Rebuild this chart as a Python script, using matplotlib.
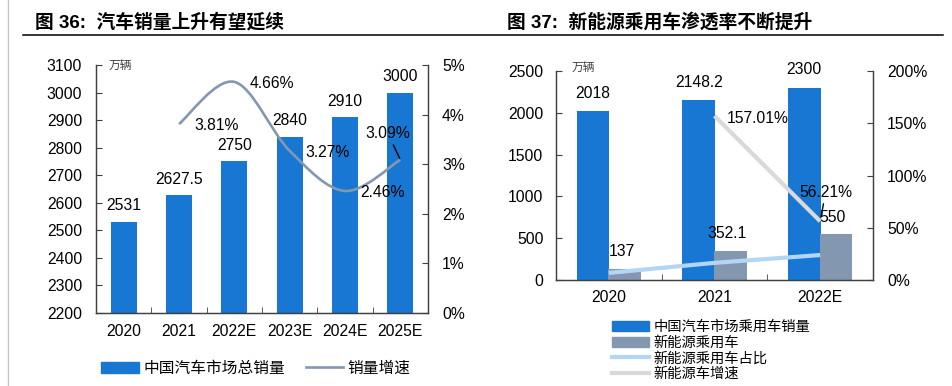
import numpy as np
import matplotlib
matplotlib.use("Agg")
import matplotlib.pyplot as plt
from matplotlib.path import Path
from matplotlib.patches import PathPatch, Patch
from matplotlib.lines import Line2D
from matplotlib.ticker import FuncFormatter

plt.rcParams['font.family'] = ['Liberation Sans', 'Noto Sans CJK SC', 'DejaVu Sans']

# ---- data: figure 36 ----
years36 = ['2020', '2021', '2022E', '2023E', '2024E', '2025E']
sales36 = [2531, 2627.5, 2750, 2840, 2910, 3000]
sales36_labels = ['2531', '2627.5', '2750', '2840', '2910', '3000']
growth36 = [3.81, 4.66, 3.27, 2.46, 3.09]   # from 2021 onwards, %

# ---- data: figure 37 ----
years37 = ['2020', '2021', '2022E']
pv_sales = [2018, 2148.2, 2300]
nev_sales = [137, 352.1, 550]
nev_share = [6.8, 16.4, 23.9]        # %
nev_growth = [157.01, 56.21]          # 2021, 2022E, %

blue = '#1777D3'
slate = '#8497B0'
light_blue = '#B4D6F5'
light_gray = '#D9D9D9'
spine_c = '#404040'
fs = 11.3

W, H = 953, 386
fig = plt.figure(figsize=(W / 100, H / 100), dpi=100)


def fx(px):
    return px / W


def fy(py):
    return 1 - py / H


def style_axes(ax, ax2, n):
    for a in (ax, ax2):
        a.spines['top'].set_visible(False)
        for s in ('left', 'right', 'bottom'):
            a.spines[s].set_color(spine_c)
            a.spines[s].set_linewidth(0.9)
    ax.set_xlim(-0.5, n - 0.5)
    ax.set_xticks(range(n))
    ax.set_xticks(np.arange(0.5, n - 1, 1), minor=True)
    ax.tick_params(axis='x', which='major', length=0, pad=8, labelsize=fs)
    ax.tick_params(axis='x', which='minor', length=4, direction='in', color=spine_c)
    ax.tick_params(axis='y', length=4, direction='in', pad=10, labelsize=fs, color=spine_c)
    ax2.tick_params(axis='y', length=4, direction='in', pad=10, labelsize=fs, color=spine_c)


def smooth_path(xs, ys):
    # Excel style smoothed line: cubic Bezier through the data points
    pts = np.column_stack([xs, ys]).astype(float)
    n = len(pts)
    verts = [pts[0]]
    codes = [Path.MOVETO]
    for i in range(n - 1):
        p0 = pts[i - 1] if i > 0 else pts[i]
        p1 = pts[i]
        p2 = pts[i + 1]
        p3 = pts[i + 2] if i + 2 < n else pts[i + 1]
        c1 = p1 + (p2 - p0) / 6
        c2 = p2 - (p3 - p1) / 6
        verts += [c1, c2, p2]
        codes += [Path.CURVE4] * 3
    return Path(verts, codes)


# ================= Figure 36 =================
ax = fig.add_axes([fx(96), fy(313), fx(428 - 96), fy(65) - fy(313)])
ax2 = ax.twinx()
x36 = np.arange(len(years36))
ax.bar(x36, [v - 2200 for v in sales36], bottom=2200, width=0.47, color=blue, zorder=2)
ax.set_ylim(2200, 3100)
ax.set_yticks(range(2200, 3101, 100))
ax.set_xticklabels(years36)
style_axes(ax, ax2, len(years36))
for xi, v, lab in zip(x36, sales36, sales36_labels):
    ax.annotate(lab, (xi, v), xytext=(0, 11.5), textcoords='offset points',
                ha='center', va='center', fontsize=fs)

ax2.set_ylim(0, 5)
ax2.set_yticks(range(0, 6))
ax2.yaxis.set_major_formatter(FuncFormatter(lambda v, p: f'{v:.0f}%'))
gx = x36[1:]
ax2.add_patch(PathPatch(smooth_path(gx, growth36), fill=False, edgecolor=slate,
                        linewidth=1.9, zorder=3))
for xi, v in zip(gx[:-1], growth36[:-1]):
    ax2.annotate(f'{v:.2f}%', (xi, v), xytext=(27, -1), textcoords='offset points',
                 ha='center', va='center', fontsize=fs)
ax2.annotate(f'{growth36[-1]:.2f}%', (gx[-1], growth36[-1]), xytext=(-9, 19),
             textcoords='offset points', ha='center', va='center', fontsize=fs,
             arrowprops=dict(arrowstyle='-', color='black', lw=1, shrinkA=1, shrinkB=1))

fig.text(fx(120), fy(66), '万辆', fontsize=8.5, ha='center', va='center', color='#404040',
         style='italic')

fig.legend(handles=[Patch(color=blue), Line2D([], [], color=slate, lw=1.9)],
           labels=['中国汽车市场总销量', '销量增速'], ncol=2, frameon=False,
           loc='center left', bbox_to_anchor=(fx(101), fy(368)), borderpad=0,
           borderaxespad=0, fontsize=11.3, handlelength=2.4, handletextpad=0.3,
           columnspacing=1.3)

# ================= Figure 37 =================
bx = fig.add_axes([fx(556), fy(280), fx(873 - 556), fy(71) - fy(280)])
bx2 = bx.twinx()
x37 = np.arange(len(years37))
bx.bar(x37 - 0.15, pv_sales, width=0.31, color=blue, zorder=2)
bx.bar(x37 + 0.15, nev_sales, width=0.31, color=slate, zorder=2)
bx.set_ylim(0, 2500)
bx.set_yticks(range(0, 2501, 500))
bx.set_xticklabels(years37)
style_axes(bx, bx2, len(years37))
bx.tick_params(axis='x', which='major', pad=7)
bx.tick_params(axis='y', pad=9)
for xi, v in zip(x37, pv_sales):
    bx.annotate(f'{v:g}', (xi - 0.15, v), xytext=(0, 13), textcoords='offset points',
                ha='center', va='center', fontsize=fs)
for xi, v in zip(x37, nev_sales):
    bx.annotate(f'{v:g}', (xi + 0.12, v), xytext=(0, 12), textcoords='offset points',
                ha='center', va='center', fontsize=fs)

bx2.set_ylim(0, 200)
bx2.set_yticks(range(0, 201, 50))
bx2.yaxis.set_major_formatter(FuncFormatter(lambda v, p: f'{v:.0f}%'))
bx2.plot(x37, nev_share, color=light_blue, lw=3, solid_capstyle='butt', zorder=3)
bx2.plot(x37[1:], nev_growth, color=light_gray, lw=3, solid_capstyle='butt', zorder=3)
bx2.annotate(f'{nev_growth[0]:.2f}%', (x37[1], nev_growth[0]), xytext=(31, -2),
             textcoords='offset points', ha='center', va='center', fontsize=fs)
bx2.annotate(f'{nev_growth[1]:.2f}%', (x37[2], nev_growth[1]), xytext=(4, 21),
             textcoords='offset points', ha='center', va='center', fontsize=fs,
             arrowprops=dict(arrowstyle='-', color='black', lw=1, shrinkA=1, shrinkB=3))

fig.text(fx(583), fy(68), '万辆', fontsize=8.5, ha='center', va='center', color='#404040',
         style='italic')

fig.legend(handles=[Patch(color=blue), Patch(color=slate),
                    Line2D([], [], color=light_blue, lw=3),
                    Line2D([], [], color=light_gray, lw=3)],
           labels=['中国汽车市场乘用车销量', '新能源乘用车', '新能源乘用车占比', '新能源车增速'],
           ncol=1, frameon=False, loc='center left',
           bbox_to_anchor=(fx(612), fy(350.5)), borderpad=0, borderaxespad=0,
           fontsize=10.3, handlelength=2.6, handletextpad=0.3, labelspacing=0.12)

# ---- titles and frame lines ----
fig.text(fx(35), fy(22), '图 36:  汽车销量上升有望延续', fontsize=13.5, fontweight='bold',
         ha='left', va='center')
fig.text(fx(507), fy(22), '图 37:  新能源乘用车渗透率不断提升', fontsize=13.5, fontweight='bold',
         ha='left', va='center')
fig.add_artist(Line2D([fx(23), fx(943)], [fy(35), fy(35)], color='black', lw=1.1))
fig.add_artist(Line2D([fx(8), fx(8)], [0, 1], color='#C8C8C8', lw=1))

fig.savefig('out.png', dpi=100)
